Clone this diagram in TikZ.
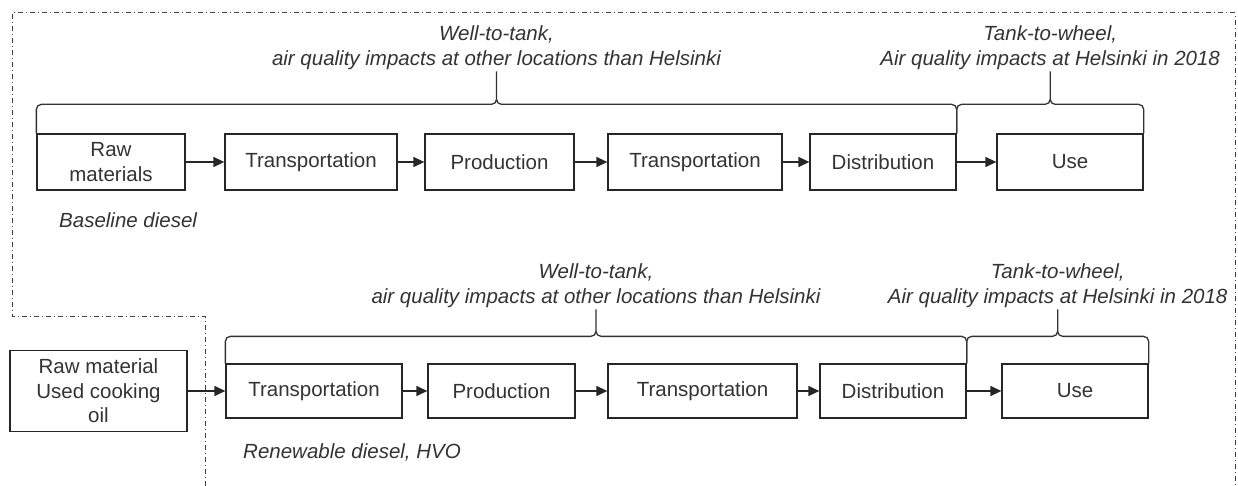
\documentclass[tikz,border=0pt]{standalone}
\usepackage{fontspec}
\setmainfont{Liberation Sans}
\usetikzlibrary{arrows.meta,calc}
\begin{document}
\begin{tikzpicture}[x=1pt,y=-1pt,box/.style={draw=black!85,line width=1.3pt,inner
					sep=0pt,align=center,text=black!80,font=\fontsize{20.5}{24.5}\selectfont},
		row1/.style={box,minimum height=56pt},row2/.style={box,minimum height=54pt},
		arr/.style={draw=black!85,line width=1.3pt,-{Triangle[length=11pt,width=10pt]}},
		brc/.style={draw=black!80,line width=1.3pt,rounded corners=5pt},
		lbl/.style={align=center,inner sep=1pt,text=black!80,font=\fontsize{20.5}{25}\selectfont\itshape},
		frame/.style={draw=black!75,line width=1pt,dash pattern=on 5pt off 3pt on 1pt off 3pt}]
		\useasboundingbox (0,0) rectangle (1238,486);
		% dash-dot frame round the baseline chain
		\draw[frame] (205,486) -- (205,316) -- (12,316) -- (12,13) -- (1235,13) -- (1235,486);
		% baseline diesel
		\node[row1,minimum width=148pt] (raw1) at (111,162) {Raw\\materials};
		\node[row1,minimum width=172pt] (tr1) at (311,162) {Transportation};
		\node[row1,minimum width=149pt] (prod1) at (499.5,162) {Production};
		\node[row1,minimum width=174pt] (trb1) at (695,162) {Transportation};
		\node[row1,minimum width=146pt] (dist1) at (883,162) {Distribution};
		\node[row1,minimum width=146pt] (use1) at (1070,162) {Use};
		\node[lbl,anchor=base west] (bd) at (58,228) {Baseline diesel};
		% renewable diesel
		\node[box,minimum width=177pt,minimum height=81pt] (raw2) at (98.5,391) {Raw material\\Used cooking\\oil};
		\node[row2,minimum width=176pt] (tr2) at (314,391) {Transportation};
		\node[row2,minimum width=147pt] (prod2) at (501.5,391) {Production};
		\node[row2,minimum width=189pt] (trb2) at (702.5,391) {Transportation};
		\node[row2,minimum width=146pt] (dist2) at (893,391) {Distribution};
		\node[row2,minimum width=146pt] (use2) at (1075,391) {Use};
		\node[lbl,anchor=base west] (hvo) at (242,458) {Renewable diesel, HVO};
		\foreach \a/\b in {raw1/tr1,tr1/prod1,prod1/trb1,trb1/dist1,dist1/use1,
				raw2/tr2,tr2/prod2,prod2/trb2,trb2/dist2,dist2/use2}
			\draw[arr] (\a) -- (\b);
		% braces
		\coordinate (wtt1) at ($(raw1.north west)!.5!(dist1.north east)$);
		\coordinate (ttw1) at ($(dist1.north east)!.5!(use1.north east)$);
		\coordinate (wtt2) at ($(tr2.north west)!.5!(dist2.north east)$);
		\coordinate (ttw2) at ($(dist2.north east)!.5!(use2.north east)$);
		\draw[brc] (raw1.north west) |- ([yshift=29pt]wtt1) -- ([yshift=62pt]wtt1)
			([yshift=62pt]wtt1) -- ([yshift=29pt]wtt1) -| (dist1.north east);
		\draw[brc] (dist1.north east) |- ([yshift=29pt]ttw1) -- ([yshift=62pt]ttw1)
			([yshift=62pt]ttw1) -- ([yshift=29pt]ttw1) -| (use1.north east);
		\draw[brc] (tr2.north west) |- ([yshift=27pt]wtt2) -- ([yshift=54pt]wtt2)
			([yshift=54pt]wtt2) -- ([yshift=27pt]wtt2) -| (dist2.north east);
		\draw[brc] (dist2.north east) |- ([yshift=27pt]ttw2) -- ([yshift=54pt]ttw2)
			([yshift=54pt]ttw2) -- ([yshift=27pt]ttw2) -| (use2.north east);
		\node[lbl,anchor=south] (wttlbl1) at ([yshift=62pt]wtt1) {Well-to-tank,\\air quality impacts at other locations than Helsinki};
		\node[lbl,anchor=south] (ttwlbl1) at ([yshift=62pt]ttw1) {Tank-to-wheel,\\Air quality impacts at Helsinki in 2018};
		\node[lbl,anchor=south] (wttlbl2) at ([yshift=54pt]wtt2) {Well-to-tank,\\air quality impacts at other locations than Helsinki};
		\node[lbl,anchor=south] (ttwlbl2) at ([yshift=54pt]ttw2) {Tank-to-wheel,\\Air quality impacts at Helsinki in 2018};
	\end{tikzpicture}
\end{document}
